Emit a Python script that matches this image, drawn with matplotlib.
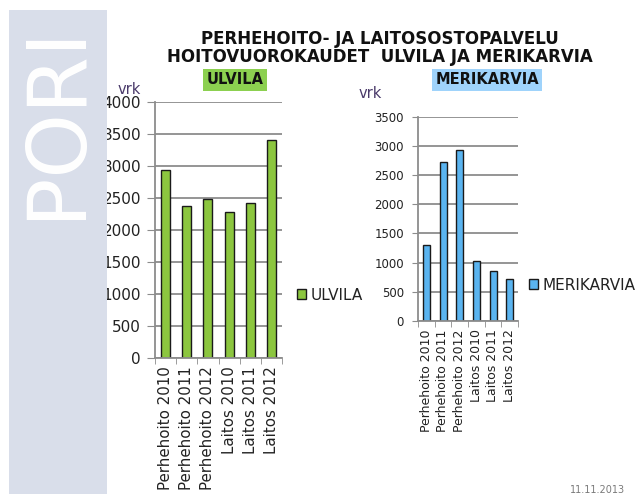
import matplotlib
matplotlib.use("Agg")
import matplotlib.pyplot as plt
from matplotlib.patches import Rectangle

categories = ["Perhehoito 2010", "Perhehoito 2011", "Perhehoito 2012",
              "Laitos 2010", "Laitos 2011", "Laitos 2012"]
ulvila = [2940, 2380, 2490, 2275, 2420, 3400]
merikarvia = [1300, 2720, 2935, 1025, 860, 720]
ulvila_ticks = [0, 500, 1000, 1500, 2000, 2500, 3000, 3500, 4000]
meri_ticks = [0, 500, 1000, 1500, 2000, 2500, 3000, 3500]

W, H = 635, 494
fig = plt.figure(figsize=(W / 100, H / 100), dpi=100)
fig.patch.set_facecolor("white")

def fx(px):
    return px / W

def fy(py):
    return 1 - py / H

# sidebar
fig.patches.append(Rectangle((fx(9), 0), fx(107) - fx(9), fy(10), transform=fig.transFigure,
                             facecolor="#d9deea", edgecolor="none", zorder=0))
fig.text(fx(57), fy(121), "PORI", rotation=90, color="white", fontsize=59,
         ha="center", va="center", family="DejaVu Sans")

# titles
fig.text(fx(380), fy(39), "PERHEHOITO- JA LAITOSOSTOPALVELU", ha="center", va="center",
         fontsize=12, fontweight="bold", color="#111111")
fig.text(fx(380), fy(57), "HOITOVUOROKAUDET  ULVILA JA MERIKARVIA", ha="center", va="center",
         fontsize=12, fontweight="bold", color="#111111")

fig.text(fx(235), fy(80), "ULVILA", ha="center", va="center", fontsize=10.5, fontweight="bold",
         color="#111111", bbox=dict(boxstyle="square,pad=0.25", facecolor="#8cd050", edgecolor="none"))
fig.text(fx(487), fy(80), "MERIKARVIA", ha="center", va="center", fontsize=10.5, fontweight="bold",
         color="#111111", bbox=dict(boxstyle="square,pad=0.25", facecolor="#9fd3fb", edgecolor="none"))

fig.text(fx(129), fy(89), "vrk", ha="center", va="center", fontsize=10.5, color="#4a3a6a")
fig.text(fx(370), fy(93), "vrk", ha="center", va="center", fontsize=10.5, color="#4a3a6a")

fig.text(fx(625), fy(490), "11.11.2013", ha="right", va="center", fontsize=7, color="#7a7a7a")


def style_axes(ax, ticks, top, fs_y, fs_x, ylen, ypad):
    ax.set_ylim(0, top)
    ax.set_xlim(-0.5, len(categories) - 0.5)
    ax.set_yticks(ticks)
    ax.yaxis.grid(True, color="#8c8c8c", linewidth=1.3)
    ax.set_axisbelow(True)
    for s in ["top", "right"]:
        ax.spines[s].set_visible(False)
    for s in ["left", "bottom"]:
        ax.spines[s].set_color("#8c8c8c")
        ax.spines[s].set_linewidth(1.3)
    ax.tick_params(axis="y", direction="out", length=ylen, color="#8c8c8c", labelsize=fs_y,
                   labelcolor="#222222", pad=ypad)
    ax.set_xticks(range(len(categories)))
    ax.set_xticklabels(categories, rotation=90, fontsize=fs_x, color="#222222")
    ax.tick_params(axis="x", which="major", length=0, pad=6)
    ax.set_xticks([i - 0.5 for i in range(len(categories) + 1)], minor=True)
    ax.tick_params(axis="x", which="minor", direction="out", length=4, color="#8c8c8c")


ax1 = fig.add_axes([fx(155), fy(358), fx(282) - fx(155), fy(102) - fy(358)])
ax1.bar(range(len(categories)), ulvila, width=0.42, color="#8cc63f", edgecolor="#1a1a1a",
        linewidth=1.0, label="ULVILA")
style_axes(ax1, ulvila_ticks, 4000, 11, 10.8, 6, 4)
ax1.legend(loc="center left", bbox_to_anchor=(fx(297), fy(295)), bbox_transform=fig.transFigure,
           frameon=False, fontsize=11, handlelength=0.6, handleheight=0.6, handletextpad=0.3,
           borderaxespad=0, borderpad=0, labelcolor="#222222")

ax2 = fig.add_axes([fx(418), fy(321), fx(518) - fx(418), fy(116.7) - fy(321)])
ax2.bar(range(len(categories)), merikarvia, width=0.42, color="#5ab4f0", edgecolor="#1a1a1a",
        linewidth=1.0, label="MERIKARVIA")
style_axes(ax2, meri_ticks, 3500, 8.5, 9, 4, 6)
ax2.legend(loc="center left", bbox_to_anchor=(fx(529), fy(285)), bbox_transform=fig.transFigure,
           frameon=False, fontsize=11, handlelength=0.6, handleheight=0.6, handletextpad=0.3,
           borderaxespad=0, borderpad=0, labelcolor="#222222")

fig.savefig("out.png", dpi=100)
